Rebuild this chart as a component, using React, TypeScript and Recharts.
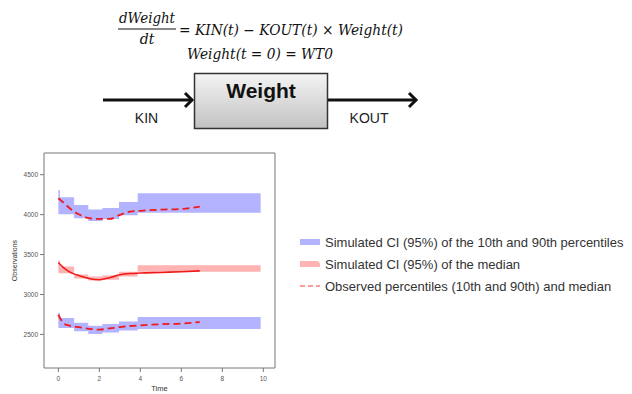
import React from 'react';
import { ComposedChart, Area, Line, XAxis, YAxis, Legend } from 'recharts';

// step bins of the simulated confidence bands (last edge closes the final step)
const binEdges = [0, 0.08, 0.77, 1.46, 2.15, 2.96, 3.87, 9.87];
const p90CiLow = [4005, 4005, 3955, 3921, 3946, 3992, 4025, 4025];
const p90CiHigh = [4309, 4217, 4121, 4063, 4083, 4158, 4267, 4267];
const p50CiLow = [3267, 3267, 3200, 3175, 3184, 3225, 3284, 3284];
const p50CiHigh = [3425, 3350, 3250, 3225, 3237, 3284, 3367, 3367];
const p10CiLow = [2580, 2580, 2538, 2505, 2525, 2550, 2567, 2567];
const p10CiHigh = [2767, 2705, 2646, 2609, 2630, 2663, 2717, 2717];

// observed percentiles
const obsTime = [0, 0.25, 0.5, 0.75, 1, 1.5, 2, 2.5, 3, 3.5, 4, 5, 6, 6.9];
const obsP90 = [4205, 4150, 4092, 4040, 4005, 3955, 3946, 3946, 3996, 4037, 4048, 4062, 4072, 4100];
const obsP50 = [3400, 3335, 3290, 3258, 3238, 3200, 3185, 3210, 3246, 3262, 3268, 3276, 3285, 3296];
const obsP10 = [2746, 2640, 2612, 2598, 2590, 2570, 2560, 2575, 2592, 2605, 2614, 2628, 2636, 2655];

const xTicks = [0, 2, 4, 6, 8, 10];
const yTicks = [2500, 3000, 3500, 4000, 4500];

const legendLabels = [
  'Simulated CI (95%) of the 10th and 90th percentiles',
  'Simulated CI (95%) of the median',
  'Observed percentiles (10th and 90th) and median',
];

type Row = {
  t: number;
  hiBand?: [number, number];
  midBand?: [number, number];
  loBand?: [number, number];
  p90?: number;
  p50?: number;
  p10?: number;
};

const rows = new Map<number, Row>();
const rowAt = (t: number) => {
  let r = rows.get(t);
  if (!r) {
    r = { t };
    rows.set(t, r);
  }
  return r;
};
binEdges.forEach((t, i) => {
  const r = rowAt(t);
  r.hiBand = [p90CiLow[i], p90CiHigh[i]];
  r.midBand = [p50CiLow[i], p50CiHigh[i]];
  r.loBand = [p10CiLow[i], p10CiHigh[i]];
});
obsTime.forEach((t, i) => {
  const r = rowAt(t);
  r.p90 = obsP90[i];
  r.p50 = obsP50[i];
  r.p10 = obsP10[i];
});
const data = [...rows.values()].sort((a, b) => a.t - b.t);

const BLUE = '#b3b3ff';
const PINK = '#ffb3b3';
const RED = '#f01a1a';
const FRAME = '#777';
const tickStyle = { fontSize: 6.5, fill: '#555', fontFamily: 'Liberation Sans' };

const LegendBox = () => (
  <div style={{ fontFamily: 'Liberation Sans, Arial', fontSize: 13, color: '#333' }}>
    {legendLabels.map((label, i) => (
      <div key={label} style={{ display: 'flex', alignItems: 'center', height: 22 }}>
        <svg width={27} height={10} style={{ flex: 'none' }}>
          {i === 0 && <rect x={2} y={2} width={20} height={6} fill={BLUE} />}
          {i === 1 && <path d="M2 2 H18 Q22 2 22 6 V8 H2 Z" fill={PINK} />}
          {i === 2 && (
            <line x1={2} y1={5} x2={22} y2={5} stroke="#ff9a9a" strokeWidth={2} strokeDasharray="5 3" />
          )}
        </svg>
        <span>{label}</span>
      </div>
    ))}
  </div>
);

const Diagram = () => (
  <svg width={632} height={140} style={{ position: 'absolute', left: 0, top: 0 }}>
    <defs>
      <linearGradient id="boxFill" x1="0" y1="0" x2="0" y2="1">
        <stop offset="0" stopColor="#f4f4f4" />
        <stop offset="1" stopColor="#c2c2c2" />
      </linearGradient>
    </defs>
    <g fontFamily="'DejaVu Serif', serif" fontStyle="italic" fontSize={14} fill="#111">
      <text x={147} y={23} textAnchor="middle" textLength={56} lengthAdjust="spacingAndGlyphs">dWeight</text>
      <line x1={118} y1={29} x2={176} y2={29} stroke="#111" strokeWidth={1} />
      <text x={147} y={44} textAnchor="middle">dt</text>
      <text x={179} y={35} textLength={224} lengthAdjust="spacingAndGlyphs">
        = KIN(t) − KOUT(t) × Weight(t)
      </text>
      <text x={187} y={59} textLength={146} lengthAdjust="spacingAndGlyphs">
        Weight(t = 0) = WT0
      </text>
    </g>
    <rect x={194.5} y={73.5} width={133} height={55} fill="url(#boxFill)" stroke="#333" strokeWidth={1.5} />
    <text x={261} y={98} textAnchor="middle" fontFamily="Liberation Sans" fontWeight="bold" fontSize={21} fill="#111">
      Weight
    </text>
    <g stroke="#111" strokeWidth={3} fill="none" strokeLinejoin="miter">
      <line x1={103} y1={100} x2={192} y2={100} />
      <polyline points="185,93 192,100 185,107" />
      <line x1={328} y1={100} x2={416} y2={100} />
      <polyline points="409,93 416,100 409,107" />
    </g>
    <g fontFamily="Liberation Sans" fontSize={14} fill="#222" textAnchor="middle">
      <text x={146.5} y={123}>KIN</text>
      <text x={369} y={123}>KOUT</text>
    </g>
  </svg>
);

export default function App() {
  return (
    <div style={{ position: 'absolute', left: 0, top: 0, width: 632, height: 394, background: '#fff' }}>
      <ComposedChart
        width={632}
        height={394}
        data={data}
        margin={{ top: 149, right: 353, bottom: 2, left: 4 }}
      >
        <XAxis
          dataKey="t"
          type="number"
          domain={[-0.7, 10.57]}
          ticks={xTicks}
          allowDataOverflow
          height={24}
          tickSize={4}
          tickMargin={4}
          tick={tickStyle}
          stroke={FRAME}
          label={{ value: 'Time', position: 'insideBottom', offset: 1, fontSize: 7.5, fill: '#333', fontFamily: 'Liberation Sans' }}
        />
        <XAxis
          xAxisId="top"
          orientation="top"
          type="number"
          domain={[-0.7, 10.57]}
          ticks={xTicks}
          allowDataOverflow
          height={4}
          tickSize={3}
          tick={false}
          stroke={FRAME}
        />
        <YAxis
          type="number"
          domain={[2079, 4772]}
          ticks={yTicks}
          allowDataOverflow
          width={40}
          tickSize={4}
          tick={tickStyle}
          stroke={FRAME}
          label={{
            content: ({ viewBox }: any) => {
              const cy = viewBox.y + viewBox.height / 2;
              return (
                <text
                  x={14}
                  y={cy}
                  transform={`rotate(-90, 14, ${cy})`}
                  textAnchor="middle"
                  dominantBaseline="central"
                  fontSize={7}
                  fill="#333"
                  fontFamily="Liberation Sans"
                >
                  Observations
                </text>
              );
            },
          }}
        />
        <YAxis
          yAxisId="right"
          orientation="right"
          type="number"
          domain={[2079, 4772]}
          ticks={yTicks}
          allowDataOverflow
          width={4}
          tickSize={4}
          tick={false}
          stroke={FRAME}
        />
        <Area type="stepAfter" dataKey="hiBand" stroke="none" fill={BLUE} fillOpacity={1} connectNulls isAnimationActive={false} />
        <Area type="stepAfter" dataKey="midBand" stroke="none" fill={PINK} fillOpacity={1} connectNulls isAnimationActive={false} />
        <Area type="stepAfter" dataKey="loBand" stroke="none" fill={BLUE} fillOpacity={1} connectNulls isAnimationActive={false} />
        <Line type="monotone" dataKey="p90" stroke={RED} strokeWidth={1.8} strokeDasharray="7 4" dot={false} connectNulls isAnimationActive={false} />
        <Line type="monotone" dataKey="p50" stroke={RED} strokeWidth={1.6} dot={false} connectNulls isAnimationActive={false} />
        <Line type="monotone" dataKey="p10" stroke={RED} strokeWidth={1.8} strokeDasharray="7 4" dot={false} connectNulls isAnimationActive={false} />
        <Legend
          layout="vertical"
          align="center"
          verticalAlign="middle"
          wrapperStyle={{ left: 298, top: 231, width: 334 }}
          content={() => <LegendBox />}
        />
      </ComposedChart>
      <Diagram />
    </div>
  );
}
